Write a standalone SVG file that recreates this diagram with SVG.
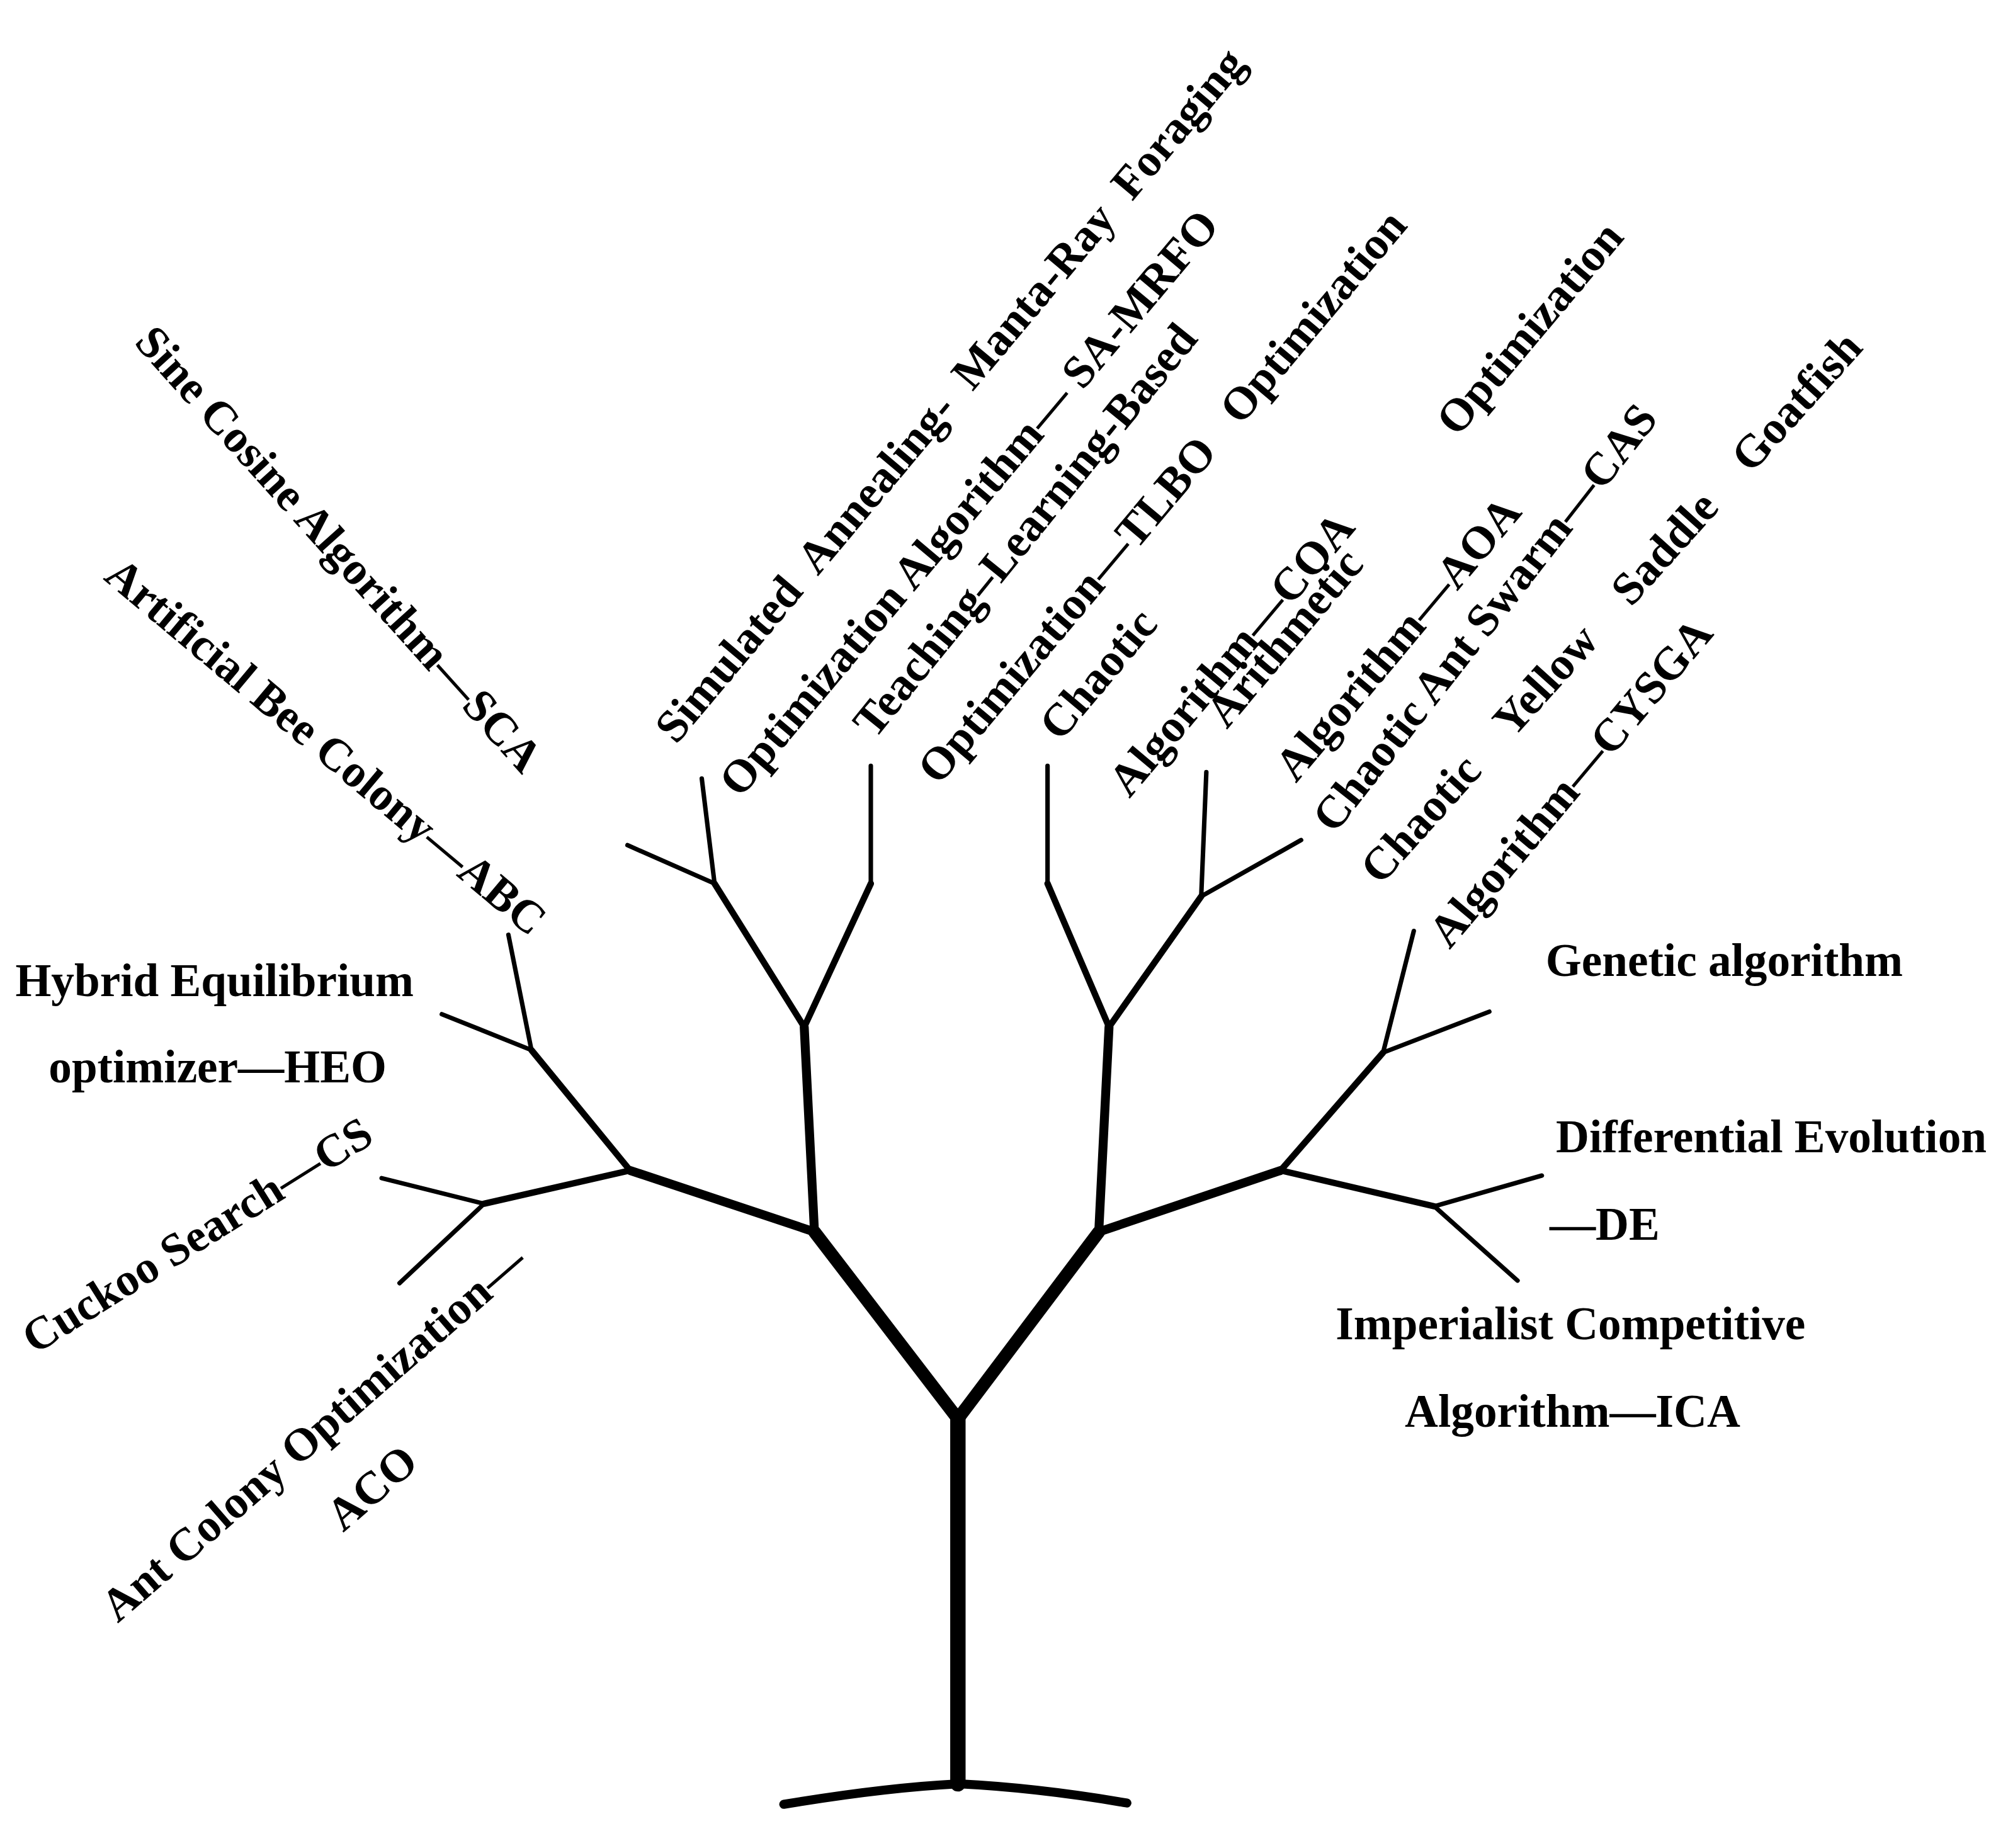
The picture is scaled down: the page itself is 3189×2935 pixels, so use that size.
<svg xmlns="http://www.w3.org/2000/svg" width="3189" height="2935" viewBox="0 0 3189 2935">
<style>
.t{font-family:"Liberation Serif","Times New Roman",serif;font-weight:bold;font-size:36px;fill:#000}
.b{fill:none;stroke:#000;stroke-linecap:round;stroke-linejoin:round}
.w1{stroke-width:12}.w2{stroke-width:10}.w3{stroke-width:7}.w4{stroke-width:5}.w5{stroke-width:3.5}
</style>
<rect width="3189" height="2935" fill="#fff"/>
<g transform="scale(2.0338)">
<g id="connectors">
<path class="b w1" d="M748,1108 V1393"/>
<path class="b w3" d="M612,1409 Q690,1396 748,1393 Q810,1396 880,1408"/>
<path class="b w2" d="M636,962 L748,1108 L858,962"/>
<path class="b w3" d="M636,962 L628,802 M636,962 L492,914 M858,962 L866,802 M858,962 L1000,914"/>
<path class="b w4" d="M628,802 L558,690 M628,802 L680,690 M492,914 L415,820 M492,914 L378,940 M866,802 L818,690 M866,802 L938,700 M1000,914 L1080,822 M1000,914 L1120,942"/>
<path class="b w5" d="M558,690 L548,608 M558,690 L490,660 M680,690 L680,598 M415,820 L397,730 M415,820 L345,792 M378,940 L298,920 M378,940 L312,1002 M818,690 L818,598 M938,700 L942,603 M938,700 L1016,656 M1080,822 L1104,727 M1080,822 L1163,790 M1120,942 L1204,918 M1120,942 L1185,1000"/>
</g>
<g id="n-sca"><text class="t" transform="translate(104,268) rotate(48)">Sine Cosine Algorithm—SCA</text></g>
<g id="n-abc"><text class="t" transform="translate(80,452) rotate(40)">Artificial Bee Colony—ABC</text></g>
<g id="n-heo"><text class="t" x="12" y="778">Hybrid Equilibrium</text><text class="t" x="38" y="845">optimizer—HEO</text></g>
<g id="n-cs"><text class="t" transform="translate(27,1058) rotate(-32)">Cuckoo Search—CS</text></g>
<g id="n-aco"><text class="t" transform="translate(92,1268) rotate(-41)">Ant Colony Optimization—</text><text class="t" transform="translate(268,1197) rotate(-41)">ACO</text></g>
<g id="n-samrfo"><text class="t" transform="translate(528,582) rotate(-50)" xml:space="preserve">Simulated  Annealing-  Manta-Ray  Foraging</text><text class="t" transform="translate(578,624) rotate(-50)" xml:space="preserve">Optimization Algorithm— SA-MRFO</text></g>
<g id="n-tlbo"><text class="t" transform="translate(683,578) rotate(-51)">Teaching–Learning-Based</text><text class="t" transform="translate(733,614) rotate(-50)" xml:space="preserve">Optimization—TLBO   Optimization</text></g>
<g id="n-coa"><text class="t" transform="translate(828,580) rotate(-50)">Chaotic</text><text class="t" transform="translate(882,624) rotate(-50)">Algorithm—COA</text></g>
<g id="n-aoa"><text class="t" transform="translate(958,570) rotate(-50)">Arithmetic</text><text class="t" transform="translate(1138,342) rotate(-50)">Optimization</text><text class="t" transform="translate(1012,612) rotate(-50)">Algorithm—AOA</text></g>
<g id="n-cas"><text class="t" transform="translate(1042,652) rotate(-52)">Chaotic Ant Swarm—CAS</text></g>
<g id="n-cysga"><text class="t" transform="translate(1078,692) rotate(-48)" xml:space="preserve">Chaotic    Yellow    Saddle    Goatfish</text><text class="t" transform="translate(1132,742) rotate(-50)">Algorithm—CYSGA</text></g>
<g id="n-ga"><text class="t" x="1207" y="762">Genetic algorithm</text></g>
<g id="n-de"><text class="t" x="1215" y="900">Differential Evolution</text><text class="t" x="1210" y="968">—DE</text></g>
<g id="n-ica"><text class="t" x="1043" y="1046">Imperialist Competitive</text><text class="t" x="1097" y="1114">Algorithm—ICA</text></g>
</g>
</svg>
